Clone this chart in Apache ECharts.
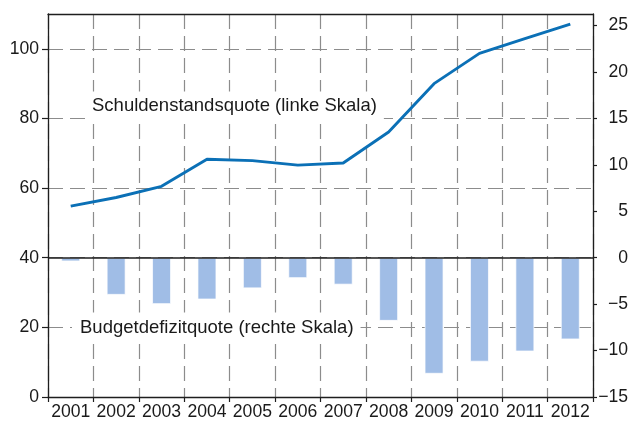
<!DOCTYPE html>
<html>
<head>
<meta charset="utf-8">
<script src="https://cdn.jsdelivr.net/npm/echarts@6/dist/echarts.min.js"></script>
<style>
  html, body { margin: 0; padding: 0; background: #fff; }
  #chart { width: 635px; height: 424px; }
</style>
</head>
<body>
<div id="chart"></div>
<script>
// Years on the category axis
const years = ['2001', '2002', '2003', '2004', '2005', '2006', '2007', '2008', '2009', '2010', '2011', '2012'];
// Gross debt ratio, % of GDP (left scale)
const debtRatio = [54.8, 57.3, 60.5, 68.3, 67.9, 66.6, 67.2, 76.1, 90.0, 98.7, 102.9, 107.1];
// Budget balance, % of GDP (right scale)
const deficitRatio = [-0.4, -4.0, -5.0, -4.5, -3.3, -2.2, -2.9, -6.8, -12.5, -11.2, -10.1, -8.8];
// Axis ranges
const leftAxisRange = { min: 0, max: 110, step: 20 };
const rightAxisRange = { min: -15, max: 26.25, step: 5 };

const FONT = '"Liberation Sans", Arial, Helvetica, sans-serif';
const TEXT = '#1a1a1a';
const AXIS = '#1e1e1e';
const GRID_LINE = { color: '#8c8c8c', width: 1.2, type: [15, 7] };

const chart = echarts.init(document.getElementById('chart'), null, { renderer: 'canvas' });

chart.setOption({
  animation: false,
  backgroundColor: '#ffffff',
  grid: {
    left: 48, right: 42, top: 14, bottom: 27,
    show: false
  },
  xAxis: [
    {
      type: 'category',
      data: years,
      boundaryGap: true,
      position: 'bottom',
      axisLine: { show: true, onZero: false, lineStyle: { color: AXIS, width: 1.3 } },
      axisTick: { show: true, interval: 0, length: 5, lineStyle: { color: AXIS, width: 1.2 } },
      axisLabel: { interval: 0, color: TEXT, fontFamily: FONT, fontSize: 17.6, margin: 6 },
      splitLine: { show: true, interval: 0, lineStyle: GRID_LINE }
    },
    {
      // top frame line of the plot
      type: 'category',
      data: years,
      boundaryGap: true,
      position: 'top',
      z: 10,
      axisLine: { show: true, onZero: false, lineStyle: { color: AXIS, width: 1.3 } },
      axisTick: { show: false },
      axisLabel: { show: false },
      splitLine: { show: false }
    }
  ],
  yAxis: [
    {
      type: 'value',
      position: 'left',
      min: leftAxisRange.min, max: leftAxisRange.max, interval: leftAxisRange.step,
      axisLine: { show: true, onZero: false, lineStyle: { color: AXIS, width: 1.3 } },
      axisTick: { show: true, inside: false, length: 6, lineStyle: { color: AXIS, width: 1.2 } },
      axisLabel: { color: TEXT, fontFamily: FONT, fontSize: 17.6, margin: 9, showMaxLabel: false },
      splitLine: { show: true, lineStyle: GRID_LINE }
    },
    {
      type: 'value',
      position: 'right',
      min: rightAxisRange.min, max: rightAxisRange.max, interval: rightAxisRange.step,
      z: 10,
      axisLine: { show: true, onZero: false, lineStyle: { color: AXIS, width: 1.3 } },
      axisTick: { show: true, inside: false, length: 4, lineStyle: { color: AXIS, width: 1.2 } },
      axisLabel: {
        color: TEXT, fontFamily: FONT, fontSize: 17.6, margin: 35, align: 'right',
        showMaxLabel: false,
        formatter: v => String(v).replace('-', '\u2212')
      },
      splitLine: { show: false }
    }
  ],
  series: [
    {
      name: 'Budgetdefizitquote',
      type: 'bar',
      xAxisIndex: 0,
      yAxisIndex: 1,
      data: deficitRatio,
      barWidth: 19,
      itemStyle: { color: '#a0bde6', borderColor: 'rgba(255,255,255,0.7)', borderWidth: 1 },
      z: 2,
      markLine: {
        silent: true,
        symbol: 'none',
        label: { show: false },
        lineStyle: { color: AXIS, width: 1.5, type: 'solid' },
        data: [{ yAxis: 0 }],
        z: 4
      }
    },
    {
      name: 'Schuldenstandsquote',
      type: 'line',
      xAxisIndex: 0,
      yAxisIndex: 0,
      data: debtRatio,
      symbol: 'none',
      lineStyle: { color: '#0b70b6', width: 2.9 },
      z: 6
    }
  ],
  graphic: [
    {
      type: 'text',
      x: 85, y: 106,
      z: 5,
      style: {
        text: 'Schuldenstandsquote (linke Skala)',
        font: '18.5px ' + FONT,
        fill: TEXT,
        align: 'left',
        verticalAlign: 'middle',
        backgroundColor: '#ffffff',
        padding: [5, 7, 5, 7]
      }
    },
    {
      type: 'text',
      x: 72, y: 328,
      z: 5,
      style: {
        text: 'Budgetdefizitquote (rechte Skala)',
        font: '18.5px ' + FONT,
        fill: TEXT,
        align: 'left',
        verticalAlign: 'middle',
        backgroundColor: '#ffffff',
        padding: [6, 7, 6, 8]
      }
    }
  ]
});
</script>
</body>
</html>
